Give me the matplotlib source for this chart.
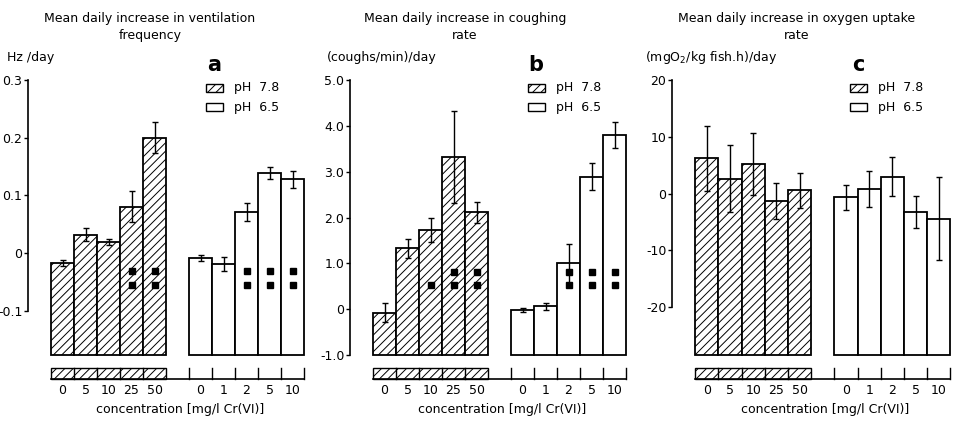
import matplotlib
matplotlib.use("Agg")
import matplotlib.pyplot as plt
from matplotlib.patches import Rectangle
from matplotlib.transforms import blended_transform_factory
import numpy as np

# ---------------- data ----------------
conc_78 = ["0", "5", "10", "25", "50"]
conc_65 = ["0", "1", "2", "5", "10"]

vent_78 = [-0.018, 0.032, 0.019, 0.080, 0.200]
vent_78_err = [0.005, 0.012, 0.006, 0.027, 0.027]
vent_65 = [-0.009, -0.019, 0.071, 0.139, 0.128]
vent_65_err = [0.005, 0.012, 0.015, 0.010, 0.015]
vent_sig_78 = [0, 0, 0, 2, 2]
vent_sig_65 = [0, 0, 2, 2, 2]

cough_78 = [-0.08, 1.33, 1.73, 3.32, 2.11]
cough_78_err = [0.21, 0.21, 0.26, 1.00, 0.23]
cough_65 = [-0.02, 0.06, 1.00, 2.89, 3.80]
cough_65_err = [0.05, 0.07, 0.42, 0.30, 0.29]
cough_sig_78 = [0, 0, 1, 2, 2]
cough_sig_65 = [0, 0, 2, 2, 2]

oxy_78 = [6.2, 2.6, 5.2, -1.35, 0.6]
oxy_78_err = [5.7, 5.9, 5.4, 3.2, 3.1]
oxy_65 = [-0.6, 0.8, 3.0, -3.2, -4.4]
oxy_65_err = [2.2, 3.2, 3.5, 2.8, 7.3]
oxy_sig_78 = [0, 0, 0, 0, 0]
oxy_sig_65 = [0, 0, 0, 0, 0]

titles = ["Mean daily increase in ventilation\nfrequency",
          "Mean daily increase in coughing\nrate",
          "Mean daily increase in oxygen uptake\nrate"]
units = ["Hz /day", "(coughs/min)/day", r"(mgO$_2$/kg fish.h)/day"]
letters = ["a", "b", "c"]
legend_labels = ["pH  7.8", "pH  6.5"]
xlabel = "concentration [mg/l Cr(VI)]"

yticks = [[0.3, 0.2, 0.1, 0, -0.1],
          [5.0, 4.0, 3.0, 2.0, 1.0, 0, -1.0],
          [20, 10, 0, -10, -20]]
yticklabels = [["0.3", "0.2", "0.1", "0", "-0.1"],
               ["5.0", "4.0", "3.0", "2.0", "1.0", "0", "-1.0"],
               ["20", "10", "0", "-10", "-20"]]

# ---------------- layout (pixels) ----------------
W, H = 955, 421
fig = plt.figure(figsize=(W / 100, H / 100), dpi=100)
plt.rcParams['hatch.linewidth'] = 0.7

spine_x = [28, 350, 672]
bar_w_px = [23, 23, 23.2]
ax_top, ax_bot = 80, 355
ylims = [(-0.177, 0.3), (-1.0, 5.0), (-28.4, 20)]
sig_y = [(-0.031, -0.055), (0.81, 0.52), (0, 0)]
title_cx = [150, 465, 797]
unit_x = [7, 327, 645]


def fx(x):
    return x / W


def fy(y):
    return 1 - y / H


datasets = [
    (vent_78, vent_78_err, vent_65, vent_65_err, vent_sig_78, vent_sig_65),
    (cough_78, cough_78_err, cough_65, cough_65_err, cough_sig_78, cough_sig_65),
    (oxy_78, oxy_78_err, oxy_65, oxy_65_err, oxy_sig_78, oxy_sig_65),
]

fs = 9
for i, (v78, e78, v65, e65, s78, s65) in enumerate(datasets):
    xmax = 12.3
    width_px = xmax * bar_w_px[i]
    ax = fig.add_axes([fx(spine_x[i]), fy(ax_bot), fx(width_px), (ax_bot - ax_top) / H])
    ax.set_xlim(0, xmax)
    ax.set_ylim(*ylims[i])
    ax.patch.set_alpha(0)

    x78 = np.arange(5) + 1.5
    x65 = np.arange(5) + 7.5
    bottom = ylims[i][0]
    ax.bar(x78, np.array(v78) - bottom, bottom=bottom, width=1.0, facecolor="white",
           edgecolor="black", hatch="////", linewidth=1.3, clip_on=False, zorder=2)
    ax.bar(x65, np.array(v65) - bottom, bottom=bottom, width=1.0, facecolor="white",
           edgecolor="black", linewidth=1.3, clip_on=False, zorder=2)
    ax.errorbar(x78, v78, yerr=e78, fmt="none", ecolor="black", elinewidth=1.0,
                capsize=2.5, capthick=1.0, zorder=3)
    ax.errorbar(x65, v65, yerr=e65, fmt="none", ecolor="black", elinewidth=1.0,
                capsize=2.5, capthick=1.0, zorder=3)

    # significance squares
    for xs, ss in ((x78, s78), (x65, s65)):
        for xx, n in zip(xs, ss):
            if n >= 1:
                ax.plot([xx], [sig_y[i][1]], marker="s", ms=4, color="black", zorder=4)
            if n >= 2:
                ax.plot([xx], [sig_y[i][0]], marker="s", ms=4, color="black", zorder=4)

    # spines
    for s in ("top", "right", "bottom"):
        ax.spines[s].set_visible(False)
    ax.spines["left"].set_linewidth(1.2)
    ax.spines["left"].set_bounds(min(yticks[i]), max(yticks[i]))
    ax.set_yticks(yticks[i])
    ax.set_yticklabels(yticklabels[i], fontsize=fs)
    ax.tick_params(axis="y", length=3, width=1.0, pad=1)

    # x tick labels
    ax.set_xticks(list(x78) + list(x65))
    ax.set_xticklabels(conc_78 + conc_65, fontsize=fs)
    ax.tick_params(axis="x", length=0, pad=21)

    # bottom strip
    tr = blended_transform_factory(ax.transData, ax.transAxes)
    h_ax = ax_bot - ax_top
    y0 = -24 / h_ax
    y1 = -13 / h_ax
    ax.add_patch(Rectangle((1, y0), 5, y1 - y0, transform=tr, facecolor="white",
                           edgecolor="black", hatch="////", linewidth=1.0, clip_on=False))
    for xb in range(2, 6):
        ax.plot([xb, xb], [y0, y1], transform=tr, color="black", lw=1.0, clip_on=False)
    for xb in range(7, 13):
        ax.plot([xb, xb], [y0, y1], transform=tr, color="black", lw=1.0, clip_on=False)
    ax.plot([1, 12], [y0, y0], transform=tr, color="black", lw=1.2, clip_on=False)

    ax.text(6.6, -55 / h_ax, xlabel, transform=tr, ha="center", va="center", fontsize=fs)

    # titles / units / letters / legends
    fig.text(fx(title_cx[i]), fy(27), titles[i], ha="center", va="center", fontsize=fs,
             linespacing=1.35)
    fig.text(fx(unit_x[i]), fy(58), units[i], ha="left", va="center", fontsize=fs)
    fig.text(fx(spine_x[i] + 186), fy(65), letters[i], ha="center", va="center",
             fontsize=15, fontweight="bold")
    for k, (lab, hatch) in enumerate(zip(legend_labels, ["////", ""])):
        yc = 88 + 19 * k
        fig.add_artist(Rectangle((fx(spine_x[i] + 178), fy(yc + 4)), fx(17), 8 / H,
                                 transform=fig.transFigure, facecolor="white",
                                 edgecolor="black", hatch=hatch, linewidth=1.0))
        fig.text(fx(spine_x[i] + 206), fy(yc), lab, ha="left", va="center", fontsize=fs)

fig.savefig("out.png", dpi=100)
